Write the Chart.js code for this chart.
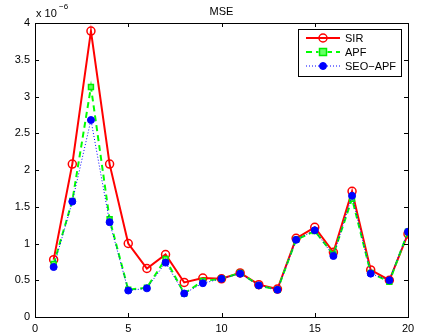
<!DOCTYPE html>
<html>
<head>
<meta charset="utf-8">
<script src="https://cdn.jsdelivr.net/npm/chart.js@4"></script>
<style>
  html, body { margin: 0; padding: 0; background: #fff; }
  #wrap { width: 421px; height: 335px; }
</style>
</head>
<body>
<div id="wrap"><canvas id="mseChart" width="421" height="335"></canvas></div>
<script>
// values in units of 1e-6 (axis shows "x 10^-6")
const steps = [1, 2, 3, 4, 5, 6, 7, 8, 9, 10, 11, 12, 13, 14, 15, 16, 17, 18, 19, 20];
const sirMse = [0.78, 2.08, 3.89, 2.08, 1.00, 0.66, 0.85, 0.47, 0.53, 0.52, 0.60, 0.44, 0.38, 1.07, 1.22, 0.88, 1.71, 0.64, 0.50, 1.13];
const apfMse = [0.72, 1.58, 3.13, 1.33, 0.37, 0.40, 0.79, 0.32, 0.49, 0.52, 0.60, 0.43, 0.37, 1.05, 1.17, 0.85, 1.61, 0.60, 0.48, 1.16];
const seoMse = [0.68, 1.57, 2.68, 1.29, 0.36, 0.39, 0.74, 0.32, 0.46, 0.52, 0.59, 0.43, 0.37, 1.05, 1.18, 0.83, 1.65, 0.59, 0.50, 1.16];
const xTicks = [0, 5, 10, 15, 20];
const yTicks = [0, 0.5, 1, 1.5, 2, 2.5, 3, 3.5, 4];

const FONT = '"Liberation Sans", Arial, sans-serif';

function pts(vals){
  return vals.map((v, i) => ({x: steps[i], y: v}));
}

// frame, inward ticks on all four sides, title, exponent and legend (matlab look)
const matlabAxes = {
  id: 'matlabAxes',
  afterDraw(chart){
    const c = chart.ctx;
    const a = chart.chartArea;
    const xs = chart.scales.x, ys = chart.scales.y;
    c.save();
    c.strokeStyle = '#000';
    c.lineWidth = 1;
    c.strokeRect(Math.round(a.left) + 0.5, Math.round(a.top) + 0.5,
                 Math.round(a.right - a.left), Math.round(a.bottom - a.top));
    c.beginPath();
    xTicks.forEach((t) => {
      var px = Math.round(xs.getPixelForValue(t)) + 0.5;
      c.moveTo(px, a.bottom); c.lineTo(px, a.bottom - 4);
      c.moveTo(px, a.top); c.lineTo(px, a.top + 4);
    });
    yTicks.forEach((t) => {
      var py = Math.round(ys.getPixelForValue(t)) + 0.5;
      c.moveTo(a.left, py); c.lineTo(a.left + 4, py);
      c.moveTo(a.right, py); c.lineTo(a.right - 4, py);
    });
    c.stroke();

    // title
    c.fillStyle = '#000';
    c.font = '11px ' + FONT;
    c.textAlign = 'center';
    c.textBaseline = 'alphabetic';
    c.fillText('MSE', (a.left + a.right) / 2, 15);

    // exponent
    c.textAlign = 'left';
    c.font = '11px ' + FONT;
    c.fillText('x 10', a.left + 1, 17);
    c.font = '8px ' + FONT;
    c.fillText('\u22126', a.left + 24, 9);

    // legend
    var lx = 298, ly = 29, lw = 103, lh = 47;
    c.fillStyle = '#fff';
    c.fillRect(lx, ly, lw, lh);
    c.strokeRect(lx + 0.5, ly + 0.5, lw, lh);
    var rows = [
      {label: 'SIR', ds: chart.data.datasets[0], y: 38},
      {label: 'APF', ds: chart.data.datasets[1], y: 52},
      {label: 'SEO\u2212APF', ds: chart.data.datasets[2], y: 66}
    ];
    rows.forEach((r) => {
      c.strokeStyle = r.ds.borderColor;
      c.lineWidth = r.ds.borderWidth;
      c.setLineDash(r.ds.borderDash || []);
      c.beginPath();
      c.moveTo(306, r.y); c.lineTo(340, r.y);
      c.stroke();
      c.setLineDash([]);
      var mx = 323;
      if(r.ds.pointStyle == 'circle'){
        c.beginPath();
        c.arc(mx, r.y, r.ds.pointRadius, 0, Math.PI * 2);
        if(r.ds.pointBackgroundColor != 'transparent'){
          c.fillStyle = r.ds.pointBackgroundColor; c.fill();
        }
        c.lineWidth = r.ds.pointBorderWidth;
        c.strokeStyle = r.ds.pointBorderColor;
        c.stroke();
      } else {
        var s = r.ds.pointRadius;
        c.fillStyle = '#fff';
        c.fillRect(mx - s - 1, r.y - s - 1, s * 2 + 2, s * 2 + 2);
        c.fillStyle = r.ds.pointBackgroundColor;
        c.fillRect(mx - s, r.y - s, s * 2, s * 2);
        c.lineWidth = r.ds.pointBorderWidth;
        c.strokeStyle = r.ds.pointBorderColor;
        c.strokeRect(mx - s, r.y - s, s * 2, s * 2);
      }
      c.fillStyle = '#000';
      c.font = '11px ' + FONT;
      c.textAlign = 'left';
      c.textBaseline = 'middle';
      c.fillText(r.label, 345, r.y + 1);
    });
    c.restore();
  }
};

var ctx = document.getElementById('mseChart').getContext('2d');
var chart = new Chart(ctx, {
  type: 'line',
  data: {
    datasets: [
      {
        label: 'SIR',
        data: pts(sirMse),
        borderColor: '#ff0000',
        borderWidth: 2,
        pointStyle: 'circle',
        pointRadius: 4,
        pointBackgroundColor: 'transparent',
        pointBorderColor: '#ff0000',
        pointBorderWidth: 1.5,
        order: 3
      },
      {
        label: 'APF',
        data: pts(apfMse),
        borderColor: '#00ff00',
        borderWidth: 2,
        borderDash: [6, 4],
        pointStyle: 'rect',
        pointRadius: 3.5,
        pointBackgroundColor: '#66ff66',
        pointBorderColor: '#00ee00',
        pointBorderWidth: 1.5,
        order: 2
      },
      {
        label: 'SEO-APF',
        data: pts(seoMse),
        borderColor: '#0000ff',
        borderWidth: 1,
        borderDash: [1, 2],
        pointStyle: 'circle',
        pointRadius: 3.5,
        pointBackgroundColor: '#0000ff',
        pointBorderColor: '#0000ff',
        pointBorderWidth: 1,
        order: 1
      }
    ]
  },
  options: {
    responsive: false,
    animation: false,
    layout: { padding: { left: 0, right: 13, top: 23, bottom: 0 } },
    plugins: { legend: { display: false }, tooltip: { enabled: false }, title: { display: false } },
    scales: {
      x: {
        type: 'linear', min: 0, max: 20,
        grid: { display: false, drawTicks: false },
        border: { display: false },
        afterBuildTicks: (s) => { s.ticks = xTicks.map((v) => ({value: v})); },
        afterFit: (s) => { s.height = 18; },
        ticks: { color: '#000', padding: 5, maxRotation: 0, font: { family: FONT, size: 11 },
                 callback: (v) => String(v) }
      },
      y: {
        type: 'linear', min: 0, max: 4,
        grid: { display: false, drawTicks: false },
        border: { display: false },
        afterBuildTicks: (s) => { s.ticks = yTicks.map((v) => ({value: v})); },
        afterFit: (s) => { s.width = 35; },
        ticks: { color: '#000', padding: 5, font: { family: FONT, size: 11 },
                 callback: (v) => String(v) }
      }
    }
  },
  plugins: [matlabAxes]
});
</script>
</body>
</html>
